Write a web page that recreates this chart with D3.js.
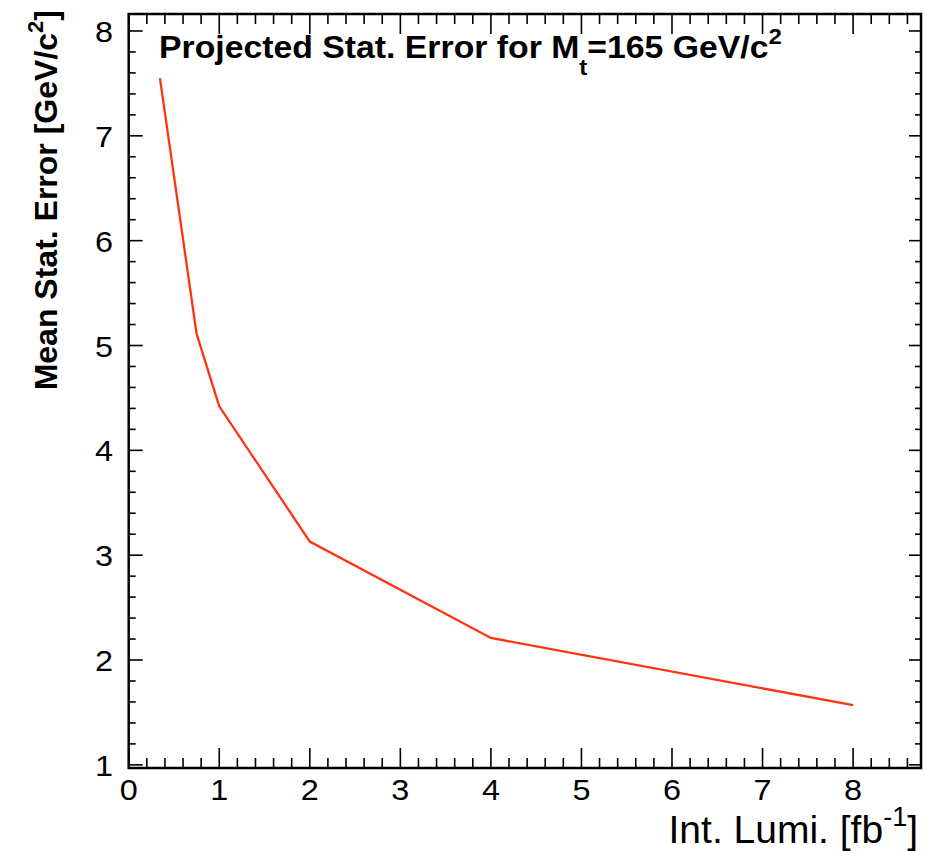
<!DOCTYPE html>
<html>
<head>
<meta charset="utf-8">
<script src="https://cdn.jsdelivr.net/npm/d3@7"></script>
<style>
  html, body { margin: 0; padding: 0; background: #fff; }
  svg { display: block; font-family: "Liberation Sans", Arial, Helvetica, sans-serif; }
</style>
</head>
<body>
<svg id="chart" width="927" height="851"></svg>
<script>
// Integrated luminosity (fb^-1) and projected mean statistical error (GeV/c^2)
const lumi = [0.345, 0.75, 1, 2, 4, 8];
const statError = [7.55, 5.11, 4.42, 3.13, 2.21, 1.57];
const xTicks = [0, 1, 2, 3, 4, 5, 6, 7, 8];
const yTicks = [1, 2, 3, 4, 5, 6, 7, 8];

const svg = d3.select("#chart");
const frame = { left: 128.7, right: 921, top: 14, bottom: 768 };

const x = d3.scaleLinear().domain([0, 8.75]).range([frame.left, frame.right]);
const y = d3.scaleLinear().domain([0.97, 8.162]).range([frame.bottom, frame.top]);

// minor ticks every 0.2
const xMinor = d3.range(0, 8.75, 0.2).map(v => +v.toFixed(2)).filter(v => Math.abs(v - Math.round(v)) > 1e-6);
const yMinor = d3.range(1, 8.17, 0.2).map(v => +v.toFixed(2)).filter(v => Math.abs(v - Math.round(v)) > 1e-6);

function drawTicks(g, vals, len, orient) {
  g.selectAll("line").data(vals).enter().append("line")
    .attr("stroke", "#000").attr("stroke-width", 1.6)
    .each(function (v) {
      const s = d3.select(this);
      if (orient === "bottom") s.attr("x1", x(v)).attr("x2", x(v)).attr("y1", frame.bottom).attr("y2", frame.bottom - len);
      if (orient === "top") s.attr("x1", x(v)).attr("x2", x(v)).attr("y1", frame.top).attr("y2", frame.top + len);
      if (orient === "left") s.attr("y1", y(v)).attr("y2", y(v)).attr("x1", frame.left).attr("x2", frame.left + len);
      if (orient === "right") s.attr("y1", y(v)).attr("y2", y(v)).attr("x1", frame.right).attr("x2", frame.right - len);
    });
}

const ticks = svg.append("g");
drawTicks(ticks.append("g"), xTicks, 20, "bottom");
drawTicks(ticks.append("g"), xMinor, 10, "bottom");
drawTicks(ticks.append("g"), xTicks, 20, "top");
drawTicks(ticks.append("g"), xMinor, 10, "top");
drawTicks(ticks.append("g"), yTicks, 14, "left");
drawTicks(ticks.append("g"), yMinor, 7, "left");
drawTicks(ticks.append("g"), yTicks, 12, "right");
drawTicks(ticks.append("g"), yMinor, 6, "right");

// plot frame
svg.append("rect")
  .attr("x", frame.left).attr("y", frame.top)
  .attr("width", frame.right - frame.left).attr("height", frame.bottom - frame.top)
  .attr("fill", "none").attr("stroke", "#000").attr("stroke-width", 2.5);

// tick labels
svg.append("g").selectAll("text").data(xTicks).enter().append("text")
  .attr("transform", d => `translate(${x(d)},800) scale(1.08,1)`)
  .attr("text-anchor", "middle").attr("font-size", 30)
  .text(d => d);

svg.append("g").selectAll("text").data(yTicks).enter().append("text")
  .attr("transform", d => `translate(113,${y(d) + 11}) scale(1.08,1)`)
  .attr("text-anchor", "end").attr("font-size", 30)
  .text(d => d);

// data line
const line = d3.line().x((d, i) => x(lumi[i])).y(d => y(d));
svg.append("path")
  .datum(statError)
  .attr("d", line)
  .attr("fill", "none")
  .attr("stroke", "#ff3311")
  .attr("stroke-width", 2.3);

// title
const title = svg.append("text")
  .attr("transform", "translate(159,58) scale(1.09,1)")
  .attr("font-size", 31).attr("font-weight", "bold");
title.append("tspan").text("Projected Stat. Error for M");
title.append("tspan").attr("font-size", 22).attr("dy", 17).text("t");
title.append("tspan").attr("dy", -17).text("=165 GeV/c");
title.append("tspan").attr("font-size", 22).attr("dy", -14).text("2");

// x axis title
const xt = svg.append("text")
  .attr("x", 918).attr("y", 843)
  .attr("text-anchor", "end").attr("font-size", 39);
xt.append("tspan").text("Int. Lumi. [fb");
xt.append("tspan").attr("font-size", 27).attr("dy", -17).text("-1");
xt.append("tspan").attr("dy", 17).text("]");

// y axis title
const yt = svg.append("text")
  .attr("transform", "translate(57,10) rotate(-90)")
  .attr("text-anchor", "end").attr("font-size", 32).attr("font-weight", "bold");
yt.append("tspan").text("Mean Stat. Error [GeV/c");
yt.append("tspan").attr("font-size", 22).attr("dy", -14).text("2");
yt.append("tspan").attr("dy", 14).text("]");
</script>
</body>
</html>
